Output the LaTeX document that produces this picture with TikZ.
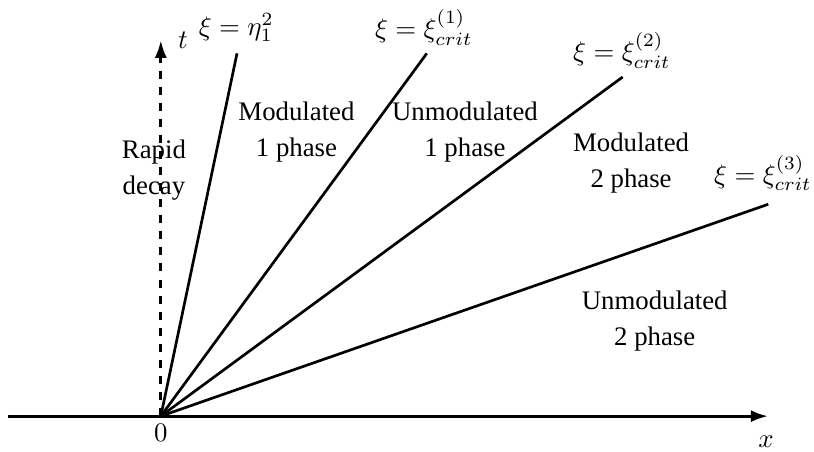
\documentclass[tikz,border=0pt]{standalone}
\usepackage{fontspec}
\setmainfont{Liberation Serif}
\usetikzlibrary{arrows.meta}
\begin{document}
\begin{tikzpicture}[
    ray/.style={line width=1pt},
    axis/.style={line width=1.2pt, -{Latex[length=6.5pt,width=4.5pt]}},
    region/.style={align=center, font=\fontsize{10pt}{13.4pt}\selectfont},
  ]
    \useasboundingbox (-2.11,-0.46) rectangle (8.57,5.46);

    % axes
    \coordinate (O) at (0,0);
    \coordinate (xl) at (-2,0);
    \coordinate (xr) at (7.97,0);
    \coordinate (tt) at (0,4.93);
    \draw[axis] (xl) -- (xr);
    \draw[axis, line width=1pt, dashed] (O) -- (tt);
    \node (zero) at (0,-0.22) {$0$};
    \node (xlab) at (7.94,-0.34) {$x$};
    \node[inner sep=1pt] (tlab) at (0.29,4.93) {$t$};

    % rays from the origin
    \coordinate (r0) at (1.0,4.76);
    \coordinate (r1) at (3.49,4.76);
    \coordinate (r2) at (6.06,4.45);
    \coordinate (r3) at (7.97,2.78);
    \draw[ray] (O) -- (r0);
    \draw[ray] (O) -- (r1);
    \draw[ray] (O) -- (r2);
    \draw[ray] (O) -- (r3);

    % ray labels
    \node[inner sep=1pt] (l0) at (0.99,5.10) {$\xi=\eta_1^2$};
    \node (l1) at (3.45,5.10) {$\xi=\xi^{(1)}_{crit}$};
    \node (l2) at (6.05,4.80) {$\xi=\xi^{(2)}_{crit}$};
    \node (l3) at (7.90,3.19) {$\xi=\xi^{(3)}_{crit}$};

    % regions
    \node[region] (decay) at (-0.09,3.23) {Rapid\\decay};
    \node[region] (mod1) at (1.78,3.73) {Modulated\\1 phase};
    \node[region] (unmod1) at (3.99,3.73) {Unmodulated\\1 phase};
    \node[region] (mod2) at (6.17,3.32) {Modulated\\2 phase};
    \node[region] (unmod2) at (6.48,1.25) {Unmodulated\\2 phase};
\end{tikzpicture}
\end{document}
